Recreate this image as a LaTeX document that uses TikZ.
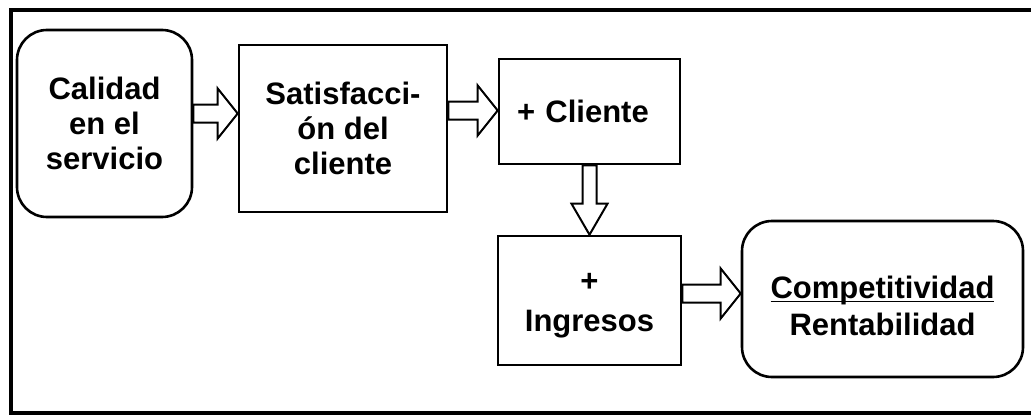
\documentclass[tikz,border=0pt]{standalone}
\usepackage{fontspec}
\setmainfont{Liberation Sans}
\usetikzlibrary{calc}

\tikzset{
  box/.style={draw, line width=1.3pt, fill=white, align=center, inner sep=0pt,
    font=\bfseries\fontsize{15.5}{17.5}\selectfont},
  roundbox/.style={box, rounded corners=15pt},
  blockarrow/.style={draw, line width=1pt, fill=white, line join=miter},
}
% hollow block arrows: #1 start, #2 node whose side gives the tip
\newcommand{\rightblock}[2]{%
  \draw[blockarrow] let \p1=(#1), \p2=(#2) in
    (\x1,\y1+4.5pt) -- (\x2-10pt,\y1+4.5pt) -- (\x2-10pt,\y1+12.5pt) -- (\x2,\y1)
    -- (\x2-10pt,\y1-12.5pt) -- (\x2-10pt,\y1-4.5pt) -- (\x1,\y1-4.5pt) -- cycle;}
\newcommand{\downblock}[2]{%
  \draw[blockarrow] let \p1=(#1), \p2=(#2) in
    (\x1-3.5pt,\y1) -- (\x1-3.5pt,\y2-15.5pt) -- (\x1-9pt,\y2-15.5pt) -- (\x1,\y2)
    -- (\x1+9pt,\y2-15.5pt) -- (\x1+3.5pt,\y2-15.5pt) -- (\x1+3.5pt,\y1) -- cycle;}

\begin{document}
\begin{tikzpicture}[x=0.5pt,y=0.5pt,yscale=-1,xscale=1]
\useasboundingbox (0,0) rectangle (1031,417);

%Frame (open on the right)
\draw[line width=2pt] (1031,10) -- (11,10) -- (11,413) -- (1031,413);

%Boxes
\node[roundbox, minimum width=87.5pt, minimum height=93.5pt] (calidad) at (104.5,123.5)
  {Calidad\\en el\\servicio};
\node[box, minimum width=104pt, minimum height=83.5pt] (satisf) at (343,128.5)
  {Satisfacci-\\ón del\\cliente};
\node[box, minimum width=90.5pt, minimum height=52.5pt, text width=72.5pt, align=left]
  (cliente) at (589.5,111.5) {+ Cliente};
\node[box, minimum width=91.5pt, minimum height=64.5pt,
  font=\bfseries\fontsize{15.5}{20}\selectfont] (ingresos) at (589.5,300.5)
  {\rule{0pt}{14pt}+\\Ingresos};
\node[roundbox, minimum width=140.5pt, minimum height=78pt,
  font=\bfseries\fontsize{15.5}{18.5}\selectfont] (compet) at (882.5,299)
  {\rule{0pt}{18pt}\underline{\smash{Competitividad}}\\Rentabilidad};

%Block arrows
\rightblock{[yshift=-5pt]calidad.east}{satisf.west}
\rightblock{[yshift=-9pt]satisf.east}{cliente.west}
\downblock{cliente.south}{ingresos.north}
\rightblock{[yshift=-3.5pt]ingresos.east}{compet.west}

\end{tikzpicture}
\end{document}
